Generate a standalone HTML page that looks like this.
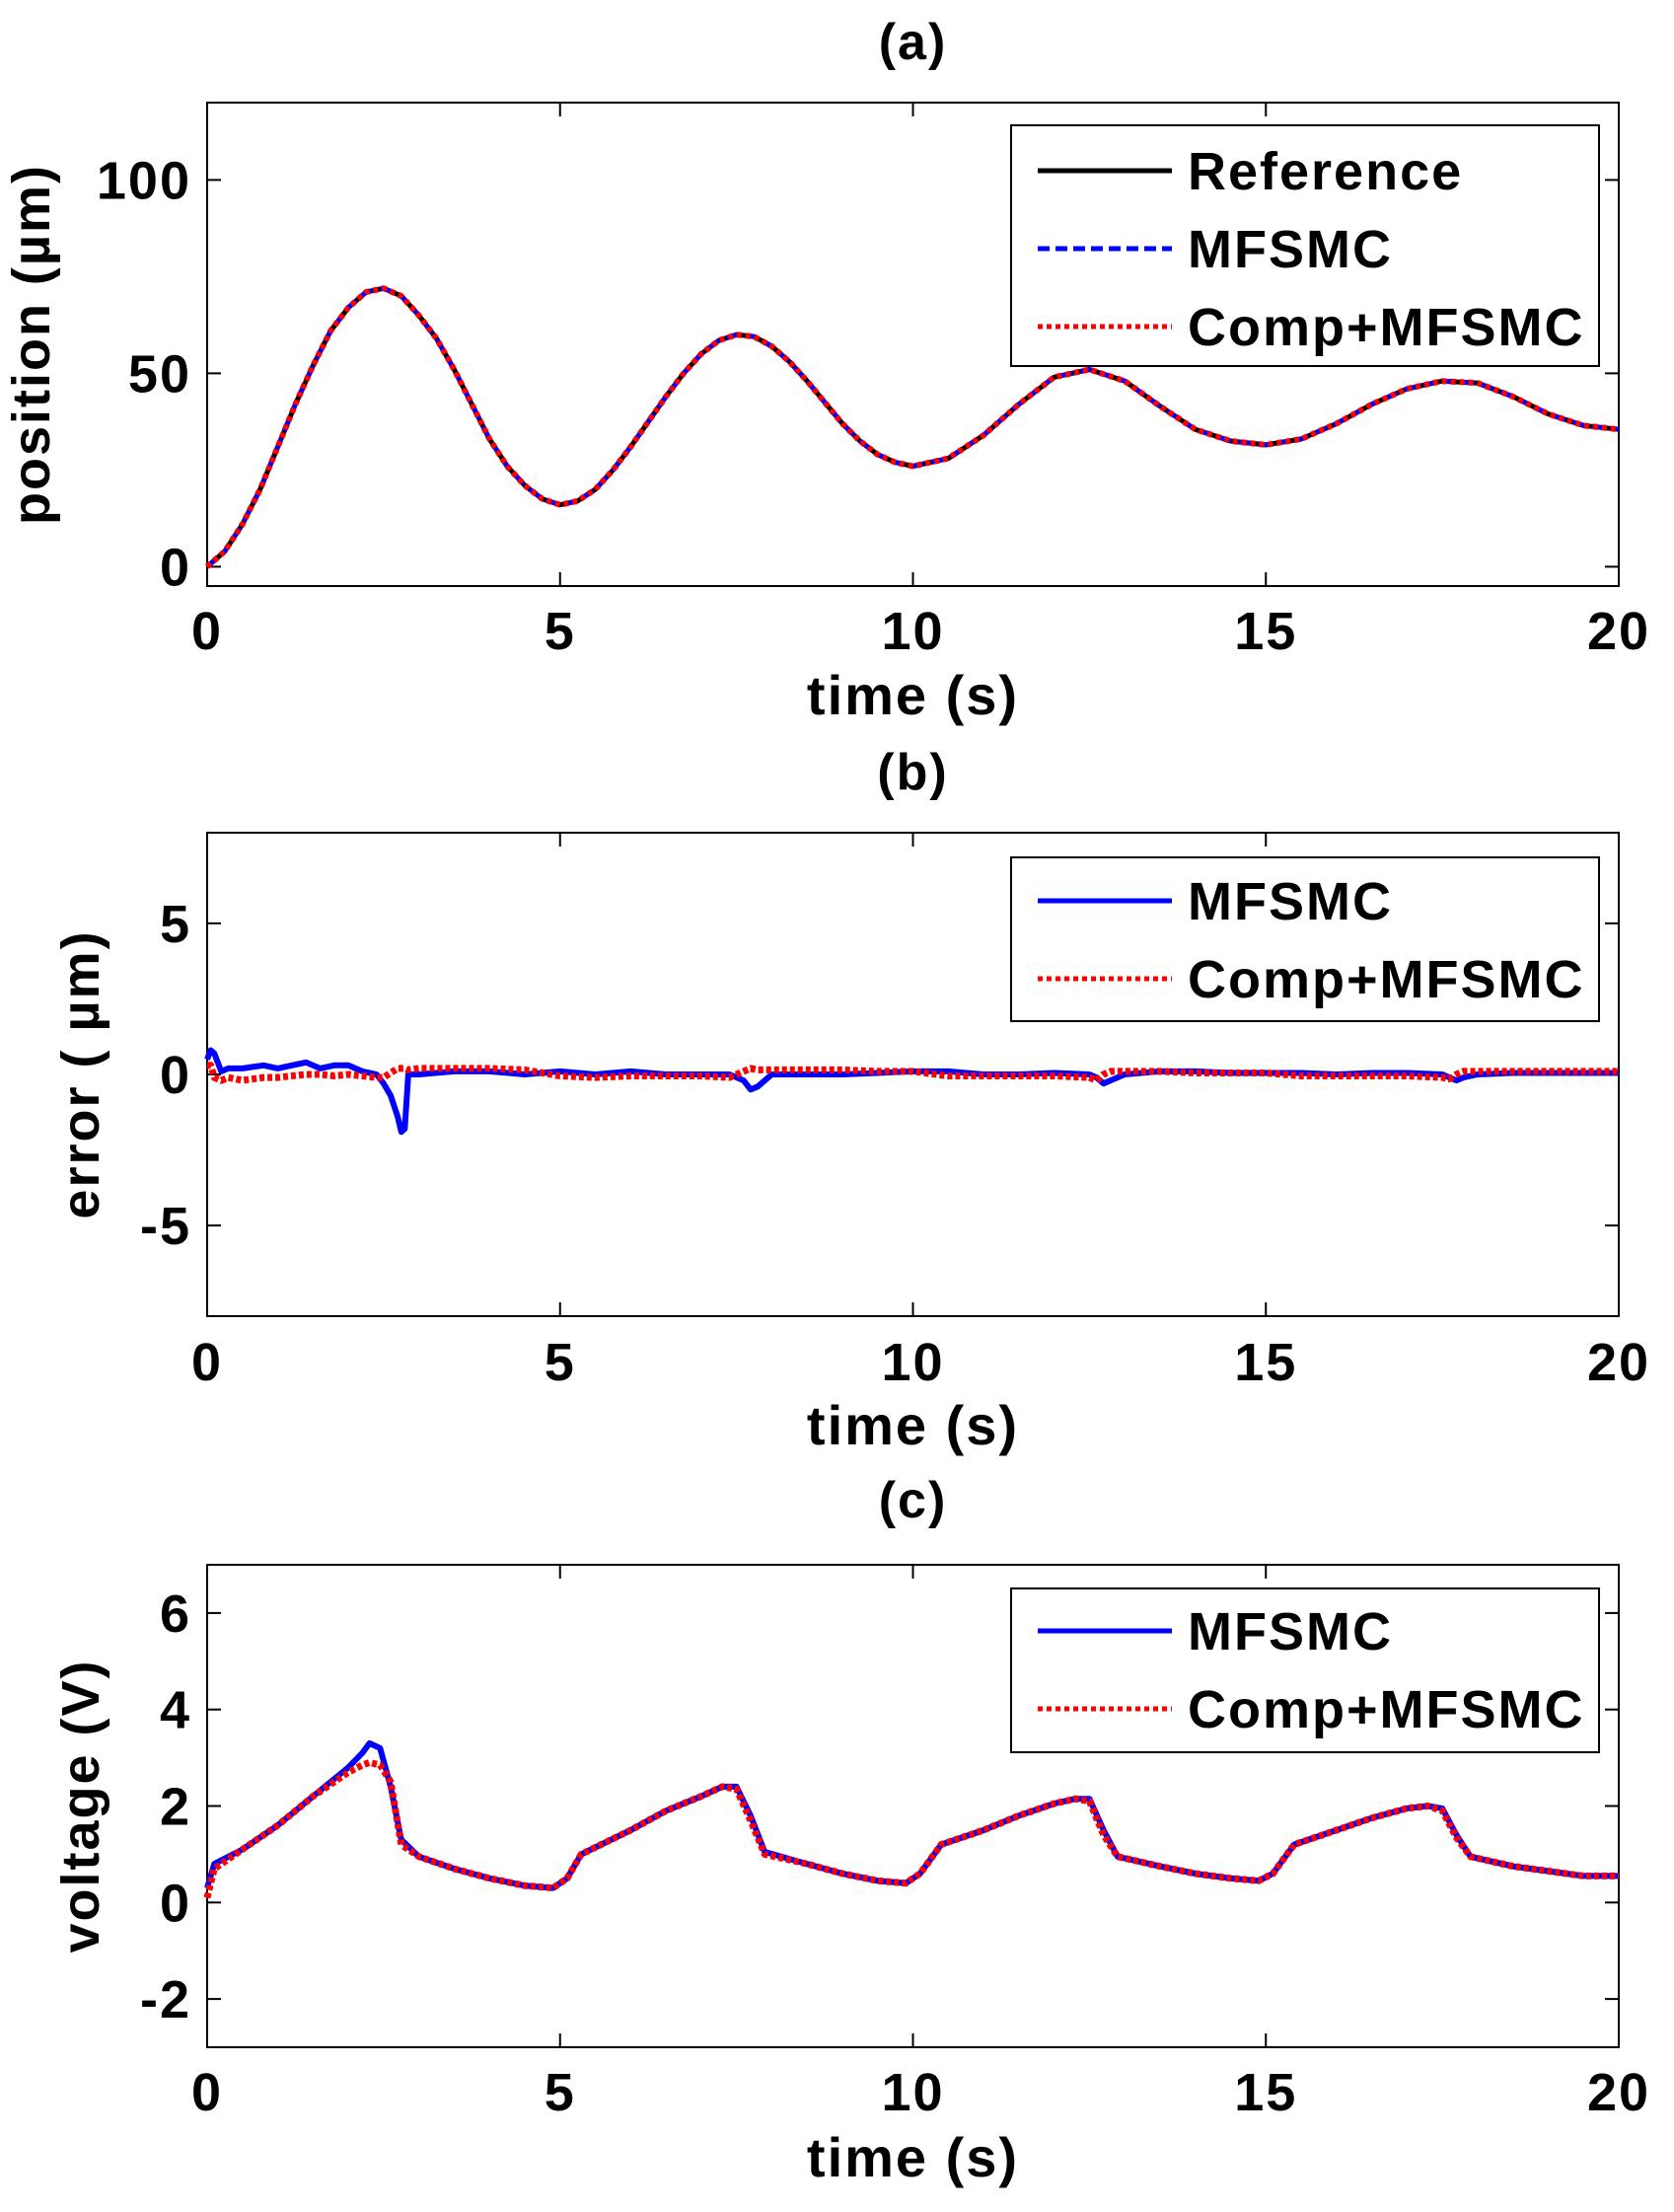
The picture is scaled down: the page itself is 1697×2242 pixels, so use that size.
<!DOCTYPE html>
<html><head><meta charset="utf-8"><style>
html,body{margin:0;padding:0;background:#fff;}
svg{display:block;}
text{font-family:"Liberation Sans",Arial,sans-serif;font-weight:bold;fill:#000;letter-spacing:2px;}
</style></head><body>
<svg id="fig" width="1697" height="2242" viewBox="0 0 1697 2242" xmlns="http://www.w3.org/2000/svg"></svg>
<script>
// ---- data ----
const xTicks = [0,5,10,15,20];
const posTime = [0,0.25,0.5,0.75,1,1.25,1.5,1.75,2,2.25,2.5,2.75,3,3.25,3.5,3.75,4,4.25,4.5,4.75,5,5.25,5.5,5.75,6,6.25,6.5,6.75,7,7.25,7.5,7.75,8,8.25,8.5,8.75,9,9.25,9.5,9.75,10,10.5,11,11.5,12,12.5,13,13.5,14,14.5,15,15.5,16,16.5,17,17.5,18,18.5,19,19.5,20];
const posRef = [0,4,11,20,31,42,52,61,67,71,72,70,65,59,51,42,33,26,21,17.5,16,17,20,25,31,37.5,44,50,55,58.5,60,59.5,57,53,48,42.5,37,32.5,29,27,26,28,34,42,49,51,48,41.5,35.5,32.5,31.5,33,37,42,46,48,47.5,44,39.5,36.5,35.5];
const posYTicks = [0,50,100];

const errTime = [0,0.05,0.1,0.2,0.3,0.5,0.8,1,1.2,1.4,1.6,1.8,2,2.2,2.4,2.5,2.6,2.7,2.75,2.8,2.85,3,3.5,4,4.5,5,5.5,6,6.5,7,7.4,7.6,7.7,7.8,8,8.5,9,9.5,10,10.5,11,11.5,12,12.5,12.6,12.7,12.8,13,13.5,14,14.5,15,15.5,16,16.5,17,17.5,17.6,17.7,17.8,18,18.5,19,19.5,20];
const errMF = [0.5,0.8,0.7,0.1,0.2,0.2,0.3,0.2,0.3,0.4,0.2,0.3,0.3,0.1,0,-0.3,-0.7,-1.4,-1.9,-1.8,0,0,0.1,0.1,0,0.1,0,0.1,0,0,0,-0.2,-0.5,-0.4,0,0,0,0.05,0.1,0.1,0,0,0.05,0,-0.1,-0.3,-0.2,0,0.1,0.1,0.05,0.05,0.05,0,0.05,0.05,0,-0.1,-0.2,-0.1,0,0.05,0.05,0.05,0.05];
const errComp = [0.3,0.3,-0.1,-0.2,-0.1,-0.2,-0.1,-0.1,-0.05,0,0,-0.05,0,-0.05,-0.1,-0.1,0.05,0.2,0.2,0.2,0.15,0.2,0.2,0.2,0.15,-0.05,-0.1,-0.05,-0.05,-0.05,-0.1,0.1,0.2,0.15,0.15,0.15,0.15,0.1,0.1,-0.05,-0.05,-0.05,-0.05,-0.1,-0.2,0,0.1,0.1,0.1,0.05,0.05,0.05,-0.05,-0.05,-0.05,-0.05,-0.1,-0.15,0,0.1,0.1,0.1,0.1,0.1,0.1];
const errYTicks = [-5,0,5];

const voltTime = [0,0.1,0.5,1,1.5,2,2.2,2.3,2.45,2.6,2.75,3,3.5,4,4.5,4.9,5.1,5.3,6,6.5,7,7.3,7.5,7.7,7.9,8.5,9,9.5,9.9,10.1,10.4,11,11.5,12,12.3,12.5,12.7,12.9,13.5,14,14.5,14.9,15.1,15.4,16,16.5,17,17.3,17.5,17.7,17.9,18.5,19,19.5,20];
const voltMF = [0.3,0.8,1.1,1.6,2.2,2.8,3.1,3.3,3.2,2.4,1.3,0.95,0.7,0.5,0.35,0.3,0.5,1.0,1.5,1.9,2.2,2.4,2.4,1.8,1.05,0.8,0.6,0.45,0.4,0.6,1.2,1.5,1.8,2.05,2.15,2.15,1.5,0.95,0.75,0.6,0.5,0.45,0.6,1.2,1.5,1.75,1.95,2.0,1.95,1.4,0.95,0.75,0.65,0.55,0.55];
const voltComp = [0.1,0.7,1.1,1.6,2.2,2.7,2.85,2.9,2.85,2.5,1.2,0.95,0.7,0.5,0.35,0.3,0.5,1.0,1.5,1.9,2.2,2.4,2.35,1.7,1.0,0.8,0.6,0.45,0.4,0.6,1.2,1.5,1.8,2.05,2.15,2.1,1.4,0.95,0.75,0.6,0.5,0.45,0.6,1.2,1.5,1.75,1.95,2.0,1.9,1.35,0.95,0.75,0.65,0.55,0.55];
const voltYTicks = [-2,0,2,4,6];

// ---- drawing ----
const NS = 'http://www.w3.org/2000/svg';
const svg = document.getElementById('fig');
function mk(tag, attrs, parent){
  const e = document.createElementNS(NS, tag);
  for (const k in attrs) e.setAttribute(k, attrs[k]);
  (parent||svg).appendChild(e);
  return e;
}
const L = 210, R = 1641;
function panel(cfg){
  const g = mk('g', {});
  
  
  const T = cfg.top, B = cfg.bottom;
  const sx = t => L + (t - 0) / 20 * (R - L);
  const sy = v => B - (v - cfg.ymin) / (cfg.ymax - cfg.ymin) * (B - T);
  mk('rect', {x:L, y:T, width:R-L, height:B-T, fill:'#fff', stroke:'#000', 'stroke-width':2}, g);
  const tl = 14;
  xTicks.forEach(t => {
    const x = sx(t);
    mk('line', {x1:x, y1:B, x2:x, y2:B-tl, stroke:'#000', 'stroke-width':2}, g);
    mk('line', {x1:x, y1:T, x2:x, y2:T+tl, stroke:'#000', 'stroke-width':2}, g);
    const tx = mk('text', {x:x, y:cfg.tickY, 'font-size':54, 'text-anchor':'middle'}, g);
    tx.textContent = t;
    
    
  });
  cfg.yTicks.forEach(v => {
    const y = sy(v);
    mk('line', {x1:L, y1:y, x2:L+tl, y2:y, stroke:'#000', 'stroke-width':2}, g);
    mk('line', {x1:R, y1:y, x2:R-tl, y2:y, stroke:'#000', 'stroke-width':2}, g);
    const ty = mk('text', {x:L-16, y:y+19, 'font-size':54, 'text-anchor':'end'}, g);
    ty.textContent = v;
    
    
  });
  cfg.series.forEach(s => {
    const pts = s.t.map((t,i) => sx(t).toFixed(1) + ',' + sy(s.v[i]).toFixed(1)).join(' ');
    const pl = mk('polyline', {points:pts, fill:'none', stroke:s.color, 'stroke-width':s.w||5, 'stroke-dasharray':s.dash||'none', 'stroke-linejoin':'round'}, g);
    
    
  });
  const title = mk('text', {x:(L+R)/2, y:cfg.titleY, 'font-size':52, 'text-anchor':'middle'}, g);
  title.textContent = cfg.title;
  
  
  const xl = mk('text', {x:(L+R)/2, y:cfg.xlabelY, 'font-size':56, 'text-anchor':'middle'}, g);
  xl.textContent = 'time (s)';
  
  
  const cy = (T+B)/2;
  const yl = mk('text', {x:cfg.ylabelX, y:cy, 'font-size':54, 'text-anchor':'middle', transform:`rotate(-90 ${cfg.ylabelX} ${cy})`}, g);
  yl.textContent = cfg.ylabel;
  
  
  // legend
  const lg = mk('g', {}, g);
  
  
  mk('rect', {x:1025, y:cfg.legTop, width:596, height:cfg.legH, fill:'#fff', stroke:'#000', 'stroke-width':2}, lg);
  cfg.legend.forEach((e,i) => {
    const y = cfg.legY0 + i*79;
    const ln = mk('line', {x1:1052, y1:y, x2:1188, y2:y, stroke:e.color, 'stroke-width':5, 'stroke-dasharray':e.dash||'none'}, lg);
    
    
    const t = mk('text', {x:1204, y:y+19, 'font-size':54, 'letter-spacing':'4px'}, lg);
    t.textContent = e.label;
    
    
  });
}
panel({name:'panel-a-position', top:104, bottom:594, ymin:-5, ymax:120, yTicks:posYTicks, tickY:658, titleY:60, xlabelY:724, ylabelX:50, ylabel:'position (\u00b5m)', title:'(a)',
  series:[{name:'reference-line', t:posTime, v:posRef, color:'#000', w:5},
          {name:'mfsmc-line', t:posTime, v:posRef, color:'#00f', w:5, dash:'12 8'},
          {name:'comp-mfsmc-line', t:posTime, v:posRef, color:'#f00', w:6, dash:'5 4'}],
  legTop:127, legH:244, legY0:173,
  legend:[{label:'Reference', color:'#000'},{label:'MFSMC', color:'#00f', dash:'12 6'},{label:'Comp+MFSMC', color:'#f00', dash:'5 4'}]});
panel({name:'panel-b-error', top:844, bottom:1334, ymin:-8, ymax:8, yTicks:errYTicks, tickY:1399, titleY:800, xlabelY:1464, ylabelX:100, ylabel:'error ( \u00b5m)', title:'(b)',
  series:[{name:'mfsmc-error-line', t:errTime, v:errMF, color:'#00f', w:6},
          {name:'comp-mfsmc-error-line', t:errTime, v:errComp, color:'#f00', w:7, dash:'5 3'}],
  legTop:869, legH:166, legY0:913,
  legend:[{label:'MFSMC', color:'#00f'},{label:'Comp+MFSMC', color:'#f00', dash:'5 4'}]});
panel({name:'panel-c-voltage', top:1586, bottom:2075, ymin:-3, ymax:7, yTicks:voltYTicks, tickY:2139, titleY:1538, xlabelY:2206, ylabelX:100, ylabel:'voltage (V)', title:'(c)',
  series:[{name:'mfsmc-voltage-line', t:voltTime, v:voltMF, color:'#00f', w:6},
          {name:'comp-mfsmc-voltage-line', t:voltTime, v:voltComp, color:'#f00', w:7, dash:'5 3'}],
  legTop:1610, legH:166, legY0:1653,
  legend:[{label:'MFSMC', color:'#00f'},{label:'Comp+MFSMC', color:'#f00', dash:'5 4'}]});
</script>
</body></html>
